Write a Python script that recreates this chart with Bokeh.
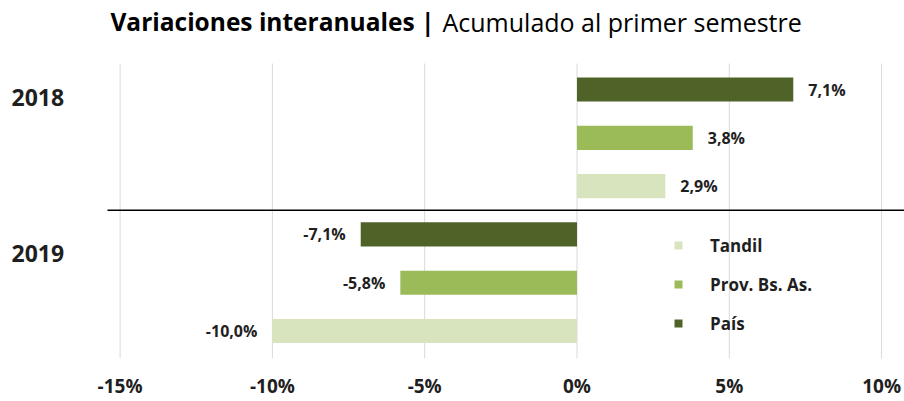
from bokeh.plotting import figure
from bokeh.models import Range1d, FixedTicker, PrintfTickFormatter, Legend, LegendItem, ColumnDataSource
from bokeh.core.properties import value
from bokeh.embed import file_html
from bokeh.resources import INLINE

# ---------------- data ----------------
years = ["2018", "2019"]
series = ["País", "Prov. Bs. As.", "Tandil"]
pais = [7.1, -7.1]
prov = [3.8, -5.8]
tandil = [2.9, -10.0]
colors = ["#4F6228", "#9BBB59", "#D7E4BD"]
ticks = [-15, -10, -5, 0, 5, 10]
title_bold = "Variaciones interanuales |"
title_regular = "Acumulado al primer semestre"

values = [pais, prov, tandil]

# ---------------- layout ----------------
FONT = "Open Sans"
TXT = "#1f1f1f"
W, H = 904, 401
PX = 30.46          # pixels per percentage point
X0 = 576.5          # pixel of 0 %
SLOT = 48.3         # pixels per bar slot
Y0 = 89             # pixel centre of first slot
FRAME_BOTTOM = 358
x_start = -X0 / PX
x_end = (W - X0) / PX
y_top = -Y0 / SLOT
y_bottom = (FRAME_BOTTOM - Y0) / SLOT

def px_x(px):
    return (px - X0) / PX

def px_y(py):
    return (py - Y0) / SLOT

p = figure(width=W, height=H, x_range=Range1d(x_start, x_end),
           y_range=Range1d(y_bottom, y_top), output_backend="svg",
           toolbar_location=None, title=None, y_axis_location=None,
           min_border_left=0, min_border_right=0, min_border_top=0,
           min_border_bottom=H - FRAME_BOTTOM)
p.outline_line_color = None
p.xgrid.grid_line_color = None
p.ygrid.grid_line_color = None
p.background_fill_color = "white"
p.border_fill_color = "white"

# vertical gridlines
p.segment(x0=ticks, x1=ticks, y0=[px_y(63)] * len(ticks), y1=[y_bottom] * len(ticks),
          line_color="#D9D9D9", line_width=1)

n = len(series)
renderers = []
for i, s in enumerate(series):
    ys = [k * n + i for k in range(len(years))]
    r = p.hbar(y=ys, left=0, right=values[i], height=0.5, fill_color=colors[i],
               line_color=None)
    renderers.append(r)
    labels = [f"{v:.1f}".replace(".", ",") + "%" for v in values[i]]
    off = 15 / PX
    src = ColumnDataSource(dict(
        x=[v + off if v >= 0 else v - off for v in values[i]],
        y=ys, text=labels,
        align=["left" if v >= 0 else "right" for v in values[i]]))
    p.text(x="x", y="y", text="text", text_align="align", source=src,
           text_baseline="middle", text_font=value(FONT), text_font_style="bold",
           text_font_size="16px", text_color=TXT)

# separator between years
p.segment(x0=[px_x(107)], x1=[x_end], y0=[n - 0.5], y1=[n - 0.5],
          line_color="black", line_width=1.5)

# year labels
year_y = [px_y(97), px_y(253)]
p.text(x=[px_x(11)] * len(years), y=year_y, text=years, text_align="left",
       text_baseline="middle", text_font=value(FONT), text_font_style="bold",
       text_font_size="23px", text_color=TXT)

# title
ty = px_y(21)
p.text(x=[px_x(434)], y=[ty], text=[title_bold], text_align="right",
       text_baseline="middle", text_font=value(FONT), text_font_style="bold",
       text_font_size="24.5px", text_color="black")
p.text(x=[px_x(442)], y=[ty], text=[title_regular], text_align="left",
       text_baseline="middle", text_font=value(FONT), text_font_style="normal",
       text_font_size="25px", text_color="black")

# x axis
ax = p.xaxis[0]
ax.ticker = FixedTicker(ticks=ticks)
ax.formatter = PrintfTickFormatter(format="%d%%")
ax.axis_line_color = None
ax.major_tick_line_color = None
ax.minor_tick_line_color = None
ax.major_tick_out = 0
ax.major_tick_in = 0
ax.minor_tick_out = 0
ax.major_label_text_font = FONT
ax.major_label_text_font_style = "bold"
ax.major_label_text_font_size = "19px"
ax.major_label_text_color = TXT
ax.major_label_standoff = 14

# legend
legend = Legend(items=[LegendItem(label=series[i], renderers=[renderers[i]]) for i in (2, 1, 0)],
                location=(673, 23.5), glyph_width=10, glyph_height=10, label_standoff=27,
                spacing=16, padding=0, margin=0, border_line_color=None,
                background_fill_alpha=0, label_text_font=FONT,
                label_text_font_style="bold", label_text_font_size="17px",
                label_text_color=TXT, label_height=20)
p.add_layout(legend)

open("out.html", "w").write(file_html(p, INLINE))
